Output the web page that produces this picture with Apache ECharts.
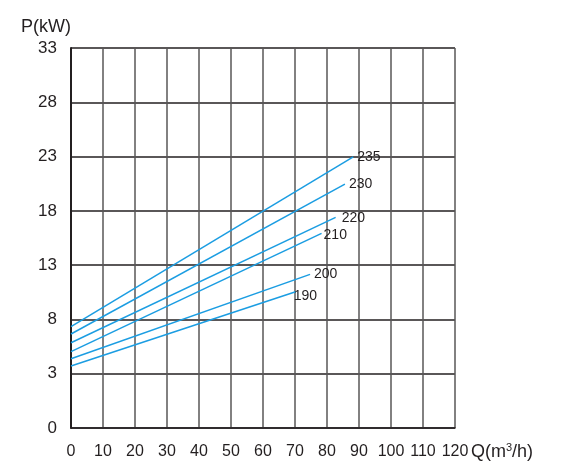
<!DOCTYPE html>
<html>
<head>
<meta charset="utf-8">
<script src="https://cdn.jsdelivr.net/npm/echarts@6/dist/echarts.min.js"></script>
<style>
  html, body { margin: 0; padding: 0; background: #fff; }
  #main { width: 562px; height: 470px; }
</style>
</head>
<body>
<div id="main"></div>
<script>
// performance curves, one per impeller size (start point and end point), P in kW
var curveNames = ['235', '230', '220', '210', '200', '190'];
var q235 = [[0, 7.33], [88.2, 22.98]];
var q230 = [[0, 6.66], [85.6, 20.47]];
var q220 = [[0, 5.85], [82.7, 17.4]];
var q210 = [[0, 5.03], [78.3, 15.93]];
var q200 = [[0, 4.38], [74.7, 12.15]];
var q190 = [[0, 3.71], [70.2, 10.55]];
var curves = [q235, q230, q220, q210, q200, q190];

// the original drawing gives the 0..3 band the same height as the 5 kW bands,
// so the axis runs from 3-5 and the bottom tick is labelled 0
var yShift = 2;
var yTickLabels = ['0', '3', '8', '13', '18', '23', '28', '33'];

var font = 'Liberation Sans, Arial, sans-serif';
var textColor = '#231f20';
var lineColor = '#1b9de2';

var labelOffsets = [[2, 0], [2, 0], [4, 1], [0, 2], [2, 0], [-4, 4]];

var series = [];
for (var i = 0; i < curves.length; i++) {
    var pts = [];
    for (var j = 0; j < curves[i].length; j++) {
        pts.push([curves[i][j][0], curves[i][j][1] + yShift]);
    }
    series.push({
        name: curveNames[i],
        type: 'line',
        data: pts,
        symbol: 'none',
        lineStyle: { color: lineColor, width: 1.5 },
        endLabel: {
            show: true,
            formatter: '{a}',
            distance: 2,
            offset: labelOffsets[i],
            color: textColor,
            fontFamily: font,
            fontSize: 14
        }
    });
}

var chart = echarts.init(document.getElementById('main'));
chart.setOption({
    animation: false,
    grid: { left: 71, right: 107, top: 48, bottom: 42 },
    xAxis: {
        type: 'value',
        min: 0,
        max: 120,
        interval: 10,
        axisLine: { lineStyle: { color: '#231f20', width: 1.5 } },
        axisTick: { show: false },
        axisLabel: {
            color: textColor,
            fontFamily: font,
            fontSize: 16,
            margin: 16,
            showMinLabel: true,
            showMaxLabel: true,
            hideOverlap: false
        },
        splitLine: { show: true, lineStyle: { color: '#595757', width: 1.5 } }
    },
    yAxis: {
        type: 'value',
        min: 0,
        max: 35,
        interval: 5,
        name: 'P(kW)',
        nameLocation: 'end',
        nameGap: 21,
        nameTextStyle: {
            align: 'right',
            verticalAlign: 'middle',
            color: textColor,
            fontFamily: font,
            fontSize: 18
        },
        axisLine: { show: true, lineStyle: { color: '#231f20', width: 2 } },
        axisTick: { show: false },
        axisLabel: {
            color: textColor,
            fontFamily: font,
            fontSize: 17,
            margin: 14,
            formatter: function (v) {
                return yTickLabels[Math.round(v / 5)] || '';
            }
        },
        splitLine: { show: true, lineStyle: { color: '#231f20', width: 1.5 } }
    },
    graphic: [{
        type: 'text',
        left: 471,
        top: 442,
        style: {
            text: '{n|Q(m}{s|3}{n|/h)}',
            fill: textColor,
            rich: {
                n: { fontSize: 18, fontFamily: font, color: textColor, lineHeight: 20 },
                s: { fontSize: 11, fontFamily: font, color: textColor, verticalAlign: 'top' }
            }
        }
    }],
    series: series
});
</script>
</body>
</html>
